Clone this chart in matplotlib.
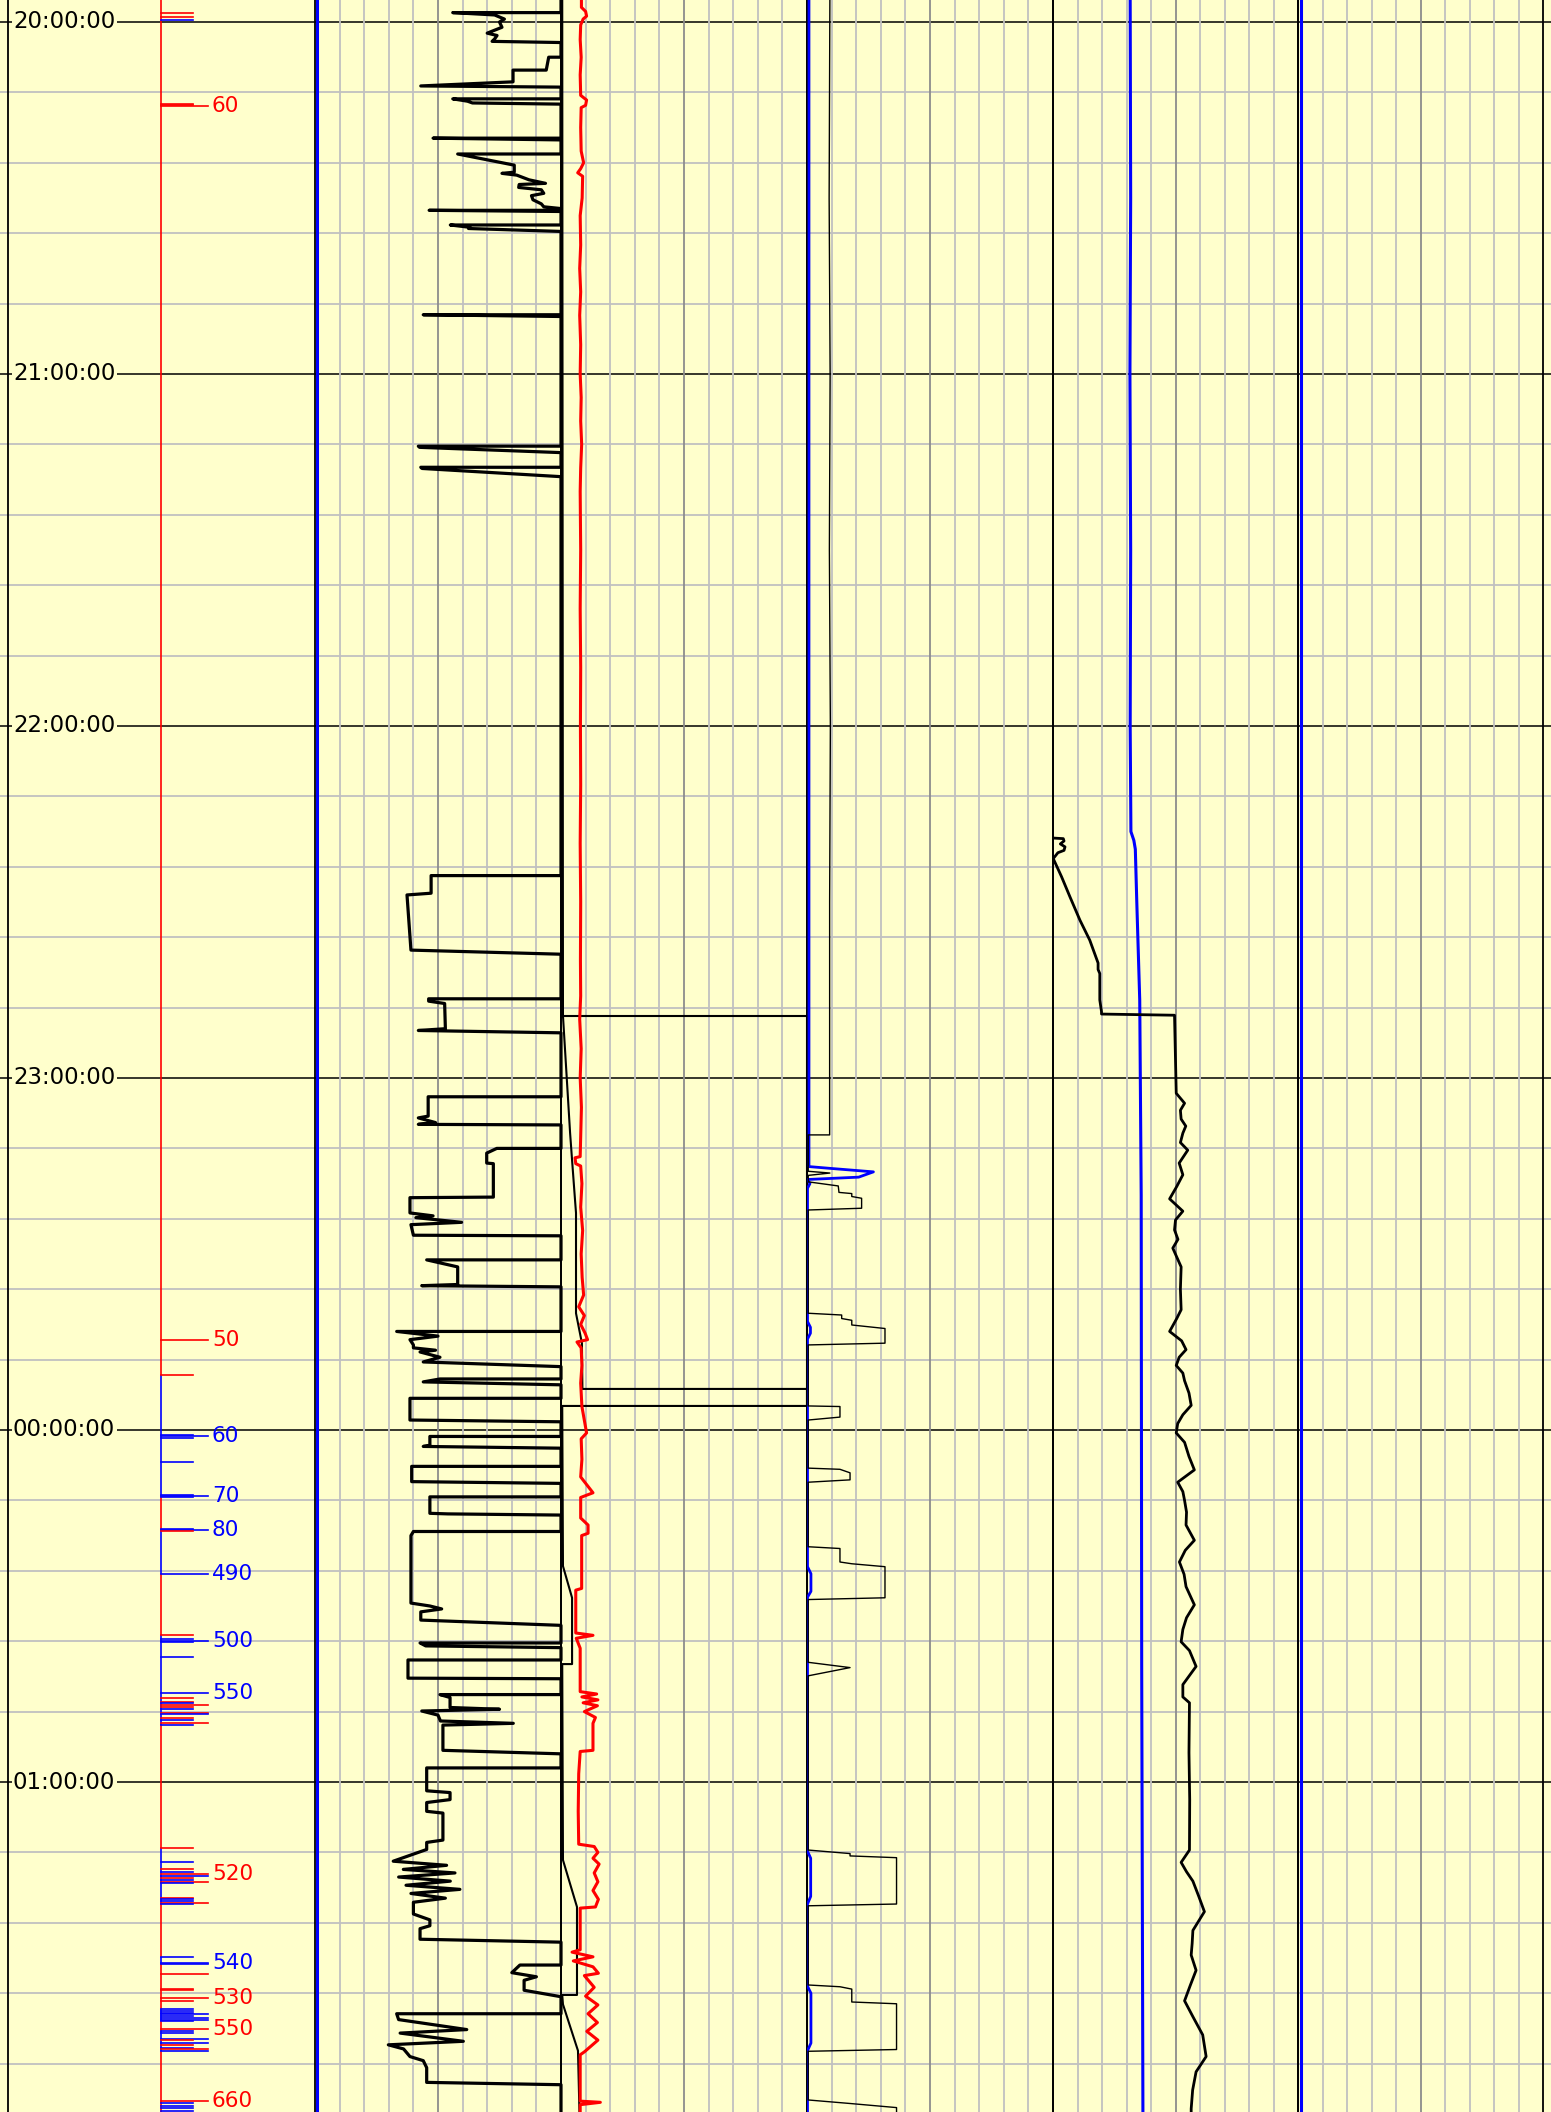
import matplotlib
matplotlib.use("Agg")
import matplotlib.pyplot as plt
import numpy as np

# ---------------- data (time = minutes after 20:00) ----------------
T_TOP, T_BOT = -3.75, 356.25
hour_labels = ["20:00:00", "21:00:00", "22:00:00", "23:00:00", "00:00:00", "01:00:00"]
hour_minutes = [0, 60, 120, 180, 240, 300]

# Track A: thick black curve (baseline 10 = right edge)
a_t = [-3.75, -1.6, -1.6, -1.2, -0.5, 0.0, 0.9, 1.9, 2.3, 2.9, 3.3, 3.5,
       6.0, 6.0, 8.2, 8.2, 10.2, 10.9, 11.1,
       13.1, 13.1, 13.5, 13.8, 14.0,
       19.8, 19.8, 20.1,
       22.5, 22.5, 23.5, 24.4, 25.6, 25.8, 26.1, 26.9, 27.5, 27.7, 28.2, 28.6, 29.2, 29.6, 30.3, 31.0, 31.5, 31.8,
       32.1, 32.1, 32.3,
       34.6, 34.6, 35.0, 35.2, 35.7,
       49.9, 49.9, 50.2,
       72.3, 72.3, 72.5, 73.4, 75.9, 75.9, 76.1, 77.5,
       145.5, 145.5, 148.5, 148.8, 158.2, 158.9,
       166.5, 166.5, 166.9, 167.3, 171.6, 171.9, 172.3,
       183.2, 183.2, 186.5, 186.8, 187.6, 187.9, 188.0,
       192.0, 192.0, 192.8, 194.5, 194.6, 200.3, 200.4, 203.0, 203.5, 203.8, 204.6, 205.0, 206.8, 206.9,
       211.0, 211.0, 212.2, 215.2, 215.4, 215.6,
       223.2, 223.2, 224.0, 224.6, 225.5, 226.0, 226.4, 226.7, 227.6, 228.4, 229.2,
       231.3, 231.3, 231.8, 232.3,
       234.6, 234.6, 238.3, 238.6,
       241.1, 241.1, 242.6, 242.8, 243.1,
       246.2, 246.2, 248.8, 249.1,
       251.4, 251.4, 254.2, 254.3, 254.5,
       257.3, 257.3, 258.0, 269.5, 270.0, 270.5, 271.0, 272.4, 273.3,
       276.3, 276.3, 276.8, 277.1,
       279.2, 279.2, 282.3, 282.4,
       285.1, 285.1, 285.6, 287.3, 287.6, 287.9, 288.6, 289.6, 290.0, 290.3, 291.3, 294.6, 295.2,
       297.6, 297.6, 301.5, 301.8, 303.0, 303.5, 305.0, 305.3, 309.9, 310.3, 311.5, 313.5,
       314.2, 314.9, 315.5, 316.2, 316.9, 317.6, 318.3, 319.0, 319.8, 320.5, 321.2,
       322.5, 323.5, 324.5, 325.0, 326.8, 327.3,
       331.2, 331.2, 332.5, 333.2, 333.8, 335.5, 336.6,
       339.5, 339.5, 340.5, 342.2, 342.8, 344.2, 344.8, 345.5, 346.8, 347.5, 348.7, 351.2, 351.6,
       356.25]
a_v = [10, 10, 5.6, 7.3, 7.7, 7.5, 7.6, 7.0, 7.4, 7.3, 7.2, 10,
       10, 9.5, 9.4, 8.05, 8.05, 4.3, 10,
       10, 5.6, 6.2, 6.4, 10,
       10, 4.8, 10,
       10, 5.8, 7.0, 8.1, 8.1, 7.6, 8.2, 8.7, 9.37, 8.3, 8.28, 9.2, 9.3, 8.8, 8.86, 9.2, 9.3, 10,
       10, 4.64, 10,
       10, 5.5, 6.3, 6.24, 10,
       10, 4.4, 10,
       10, 4.2, 4.25, 10, 10, 4.3, 4.35, 10,
       10, 4.72, 4.72, 3.74, 3.9, 10,
       10, 4.62, 4.62, 5.27, 5.3, 4.2, 10,
       10, 4.6, 4.6, 4.2, 4.9, 4.2, 10,
       10, 7.39, 6.98, 6.98, 7.25, 7.25, 3.86, 3.86, 4.8, 4.1, 5.96, 3.9, 4.0, 10,
       10, 4.54, 5.8, 5.8, 4.34, 10,
       10, 3.32, 5.0, 3.86, 4.0, 4.0, 4.9, 4.27, 5.08, 4.4, 10,
       10, 5.08, 4.4, 10,
       10, 3.86, 3.86, 10,
       10, 4.67, 4.67, 4.4, 10,
       10, 3.93, 3.93, 10,
       10, 4.67, 4.67, 5.4, 10,
       10, 4.0, 3.9, 3.9, 4.67, 5.15, 4.3, 4.3, 10,
       10, 4.27, 4.5, 10,
       10, 3.78, 3.78, 10,
       10, 5.08, 5.49, 5.49, 7.5, 4.34, 5.0, 5.1, 8.06, 5.2, 5.2, 5.2, 10,
       10, 4.54, 4.54, 5.49, 5.49, 4.54, 4.54, 5.2, 5.2, 4.54, 4.54, 3.18,
       5.35, 3.59, 5.69, 3.4, 5.5, 3.7, 5.89, 3.9, 5.3, 4.0, 4.0,
       4.0, 4.67, 4.67, 4.27, 4.27, 10,
       10, 8.33, 8.0, 9.0, 8.5, 8.5, 10,
       10, 3.32, 3.4, 6.17, 3.46, 6.03, 2.98, 3.6, 3.86, 4.4, 4.54, 4.54, 10,
       10]

# Track B: red curve
red_t = [-3.75, -2.5, -1.8, -1.0, -0.5, 0.5, 3, 6, 9, 12.5, 13.3, 14.2, 14.6, 18, 22, 24, 25.0, 25.7, 26.3,
         30, 33, 38, 42, 46, 50, 55, 60, 64, 68, 72, 76, 80, 90, 100, 110, 120, 130, 140, 150, 160, 166,
         170, 175, 180, 185, 190, 193.4, 193.6, 194.6, 195, 198, 202, 206, 210, 214, 217, 219, 220.5, 222,
         223.5, 224.6, 225.0, 226, 229, 232, 236, 240.5, 241.5, 245, 248, 250.7, 251.5, 255, 256.2, 257.6,
         258, 267, 267.3, 274.6, 275.0, 275.5, 277.2, 284.6, 285, 285.5, 286, 286.5, 287, 288, 289, 290,
         294.6, 294.8, 298.6, 305, 310.6, 311, 312, 313, 314, 315.5, 317, 318.5, 320, 321.3, 321.5, 328.6,
         329, 329.8, 330.5, 331.5, 332.6, 333, 335, 336.5, 338, 339.5, 341, 342.5, 344, 346, 346.5, 354.4,
         354.6, 355, 356.25]
red_v = [0.83, 0.83, 1.0, 1.04, 0.9, 0.8, 0.78, 0.82, 0.78, 0.8, 1.04, 1.0, 0.82, 0.8, 0.82, 0.92, 0.8, 0.68, 0.88,
         0.86, 0.78, 0.8, 0.76, 0.8, 0.76, 0.8, 0.78, 0.82, 0.8, 0.84, 0.8, 0.78, 0.8, 0.78, 0.8, 0.79, 0.8, 0.78, 0.8, 0.79, 0.8,
         0.76, 0.82, 0.78, 0.83, 0.8, 0.78, 0.57, 0.6, 0.8, 0.85, 0.8, 0.88, 0.82, 0.86, 0.92, 0.72, 0.95, 0.8,
         0.98, 1.08, 0.65, 0.82, 0.85, 0.8, 0.85, 1.04, 0.82, 0.85, 0.8, 1.3, 0.8, 0.8, 1.1, 1.1,
         0.84, 0.84, 0.6, 0.6, 1.3, 0.62, 0.78, 0.78, 1.45, 0.85, 1.5, 0.9, 1.48, 0.95, 1.4, 1.3,
         1.3, 0.78, 0.72, 0.7, 0.72, 1.35, 1.5, 1.3, 1.55, 1.35, 1.5, 1.3, 1.52, 1.4, 0.78, 0.78,
         0.45, 1.3, 0.5, 1.3, 1.52, 0.95, 1.35, 1.0, 1.5, 1.1, 1.48, 1.05, 1.5, 0.95, 0.78, 0.78,
         1.6, 0.78, 0.78]

# Track B: thin black sawtooth and wrapped excursion
saw_t = [-3.75, 169.4, 189.4, 194.0, 200.8, 203.0, 220.1, 225.2, 233.0, 233.0, 235.9, 235.9,
         263.2, 268.6, 279.9, 279.9, 313.3, 321.3, 336.3, 336.3, 337.9, 345.8, 356.25]
saw_v = [0.05, 0.08, 0.37, 0.45, 0.57, 0.61, 0.61, 0.85, 0.87, 10, 10, 0.05,
         0.08, 0.45, 0.45, 0.05, 0.08, 0.65, 0.65, 0.05, 0.08, 0.69, 0.75]
wrap_t = [169.4, 169.4, 235.9]
wrap_v = [0.05, 10, 10]

# Track C: thin black step curve and blue curve
c_t = [-3.75, 30, 60, 90, 120, 150, 189.7, 189.7, 195.9, 196.2, 196.6, 197.7, 198.4, 199.5, 199.7, 200.2, 200.5,
       202.2, 202.5, 220.1, 220.4, 221.0, 221.3, 222.1, 222.7, 225.2, 225.5, 235.9, 236.0, 237.8, 238.3,
       246.5, 246.7, 247.3, 248.5, 248.9, 259.9, 260.2, 262.5, 262.8, 263.3, 268.6, 268.9, 279.6, 280.5,
       281.9, 311.6, 312.2, 312.6, 312.9, 320.8, 321.1, 334.6, 334.9, 335.3, 337.5, 337.8, 345.6, 345.9,
       354.2, 354.8, 355.5, 356.25]
c_v = [0.93, 0.9, 0.94, 0.91, 0.95, 0.92, 0.92, 0.05, 0.05, 0.93, 0.05, 0.05, 1.27, 1.3, 1.82, 1.82, 2.22,
       2.22, 0.05, 0.05, 1.41, 1.41, 1.82, 1.82, 3.17, 3.17, 0.05, 0.05, 1.34, 1.34, 0.05,
       0.05, 1.34, 1.75, 1.75, 0.05, 0.05, 1.34, 1.34, 1.82, 3.17, 3.17, 0.05, 0.05, 1.75,
       0.05, 0.05, 1.75, 1.75, 3.64, 3.64, 0.05, 0.05, 1.34, 1.82, 1.82, 3.64, 3.64, 0.05,
       0.05, 1.75, 3.64, 3.64]
cb_t = [-3.75, 189.0, 195.1, 195.4, 196.0, 196.9, 197.3, 198.0, 198.8, 199.5, 221.5, 222.5, 223.5,
        224.5, 263.3, 264.5, 267.5, 268.5, 311.8, 313.0, 319.5, 320.8, 334.8, 336.0, 344.5, 345.8, 356.25]
cb_v = [0.08, 0.08, 0.08, 0.93, 2.7, 2.1, 0.02, 0.12, 0.02, 0.02, 0.02, 0.14, 0.14, 0.02, 0.02, 0.16, 0.16,
        0.02, 0.02, 0.15, 0.15, 0.02, 0.02, 0.16, 0.16, 0.02, 0.02]

# Track D: blue and black curves
db_t = [-3.75, 30, 60, 90, 120, 138.0, 139.5, 141.0, 150, 166.7, 200, 280, 356.25]
db_v = [3.15, 3.17, 3.14, 3.17, 3.15, 3.18, 3.3, 3.36, 3.42, 3.54, 3.6, 3.62, 3.67]
dk_t = [139.1, 139.2, 139.6, 140.1, 140.6, 141.2, 141.6, 142.6, 145.7, 149.1, 153.1, 156.5, 160.4, 161.5,
        162.2, 166.7, 168.7, 169.1, 169.3, 182.6, 184.3, 185.5, 187.0, 188.2, 189.4, 191.0, 192.3, 194.5,
        196.5, 198.5, 200.6, 202.7, 204.2, 205.9, 207.5, 209.0, 212.2, 216.0, 219.5, 221.0, 223.2, 224.8,
        226.3, 227.6, 229.0, 230.3, 231.6, 233.7, 235.8, 237.4, 238.9, 240.5, 242.1, 244.5, 246.8, 248.9,
        250.5, 252.0, 254.0, 256.2, 258.8, 260.5, 262.5, 264.6, 266.7, 269.8, 272.0, 274.0, 276.1, 277.6,
        280.3, 283.4, 285.5, 286.5, 295.0, 303.0, 311.6, 313.7, 315.3, 316.9, 319.5, 322.1, 325.3, 327.5,
        329.5, 332.1, 334.7, 337.3, 340.0, 343.1, 346.8, 349.4, 352.5, 355.7, 356.25]
dk_v = [0.01, 0.42, 0.45, 0.3, 0.49, 0.45, 0.2, 0.01, 0.35, 0.69, 1.1, 1.5, 1.84, 1.84,
        1.91, 1.91, 1.98, 1.98, 4.96, 5.03, 5.37, 5.2, 5.23, 5.42, 5.3, 5.2, 5.5, 5.15,
        5.3, 5.05, 4.76, 5.3, 5.0, 4.96, 5.1, 4.89, 5.23, 5.2, 5.23, 5.05, 4.76, 5.25,
        5.43, 5.15, 5.03, 5.3, 5.37, 5.55, 5.64, 5.3, 5.09, 5.03, 5.37, 5.55, 5.77, 5.09,
        5.3, 5.37, 5.45, 5.43, 5.77, 5.4, 5.16, 5.35, 5.43, 5.77, 5.45, 5.3, 5.23, 5.57,
        5.84, 5.3, 5.3, 5.57, 5.55, 5.58, 5.57, 5.23, 5.45, 5.71, 5.95, 6.18, 5.71, 5.68,
        5.64, 5.84, 5.6, 5.37, 5.71, 6.11, 6.25, 5.84, 5.7, 5.64, 5.64]

# Edge-pinned blue curves (tracks A and E)
ablue_t = [-3.75, 356.25]
ablue_v = [0.1, 0.1]
eblue_t = [-3.75, 356.25]
eblue_v = [0.12, 0.12]

# Event track
ev_t = [-1.48, -0.80, -0.34, 13.9, 14.1, 14.3,
        224.65, 230.6, 240.9, 241.1, 241.3, 245.4, 251.0, 251.2, 251.4, 256.8, 257.0, 257.2, 264.5,
        274.9, 275.7, 275.9, 276.1, 278.7, 284.9, 285.7,
        286.3, 286.6, 286.9, 287.3, 287.6, 288.2, 288.4, 289.1, 289.5, 289.9, 290.2,
        311.3, 313.6, 314.9, 315.3, 315.7, 316.0, 316.4, 316.7, 317.0, 317.3,
        319.7, 320.0, 320.3, 320.6, 320.8, 329.9, 330.8, 330.95, 332.7, 335.3, 335.5, 336.8, 337.3,
        338.7, 339.0, 339.3, 339.6, 339.9, 340.2, 340.5, 340.7, 342.1, 342.4, 342.8,
        343.8, 344.0, 344.5, 344.9, 345.3, 345.5, 345.9, 354.4, 354.8, 355.2, 355.6, 356.0]
ev_c = ['r', 'r', 'b', 'r', 'r', 'r',
        'r', 'r', 'b', 'b', 'b', 'b', 'b', 'b', 'b', 'b', 'b', 'r', 'b',
        'r', 'b', 'b', 'b', 'b', 'b', 'r',
        'r', 'b', 'r', 'r', 'b', 'r', 'b', 'r', 'b', 'r', 'b',
        'r', 'b', 'r', 'b', 'r', 'b', 'r', 'b', 'r', 'b',
        'r', 'b', 'b', 'r', 'b', 'b', 'b', 'b', 'r', 'r', 'r', 'r', 'r',
        'b', 'b', 'b', 'b', 'b', 'b', 'b', 'b', 'r', 'b', 'b',
        'b', 'r', 'b', 'r', 'b', 'r', 'b', 'r', 'b', 'b', 'b', 'b']
ev_long = [0, 0, 0, 0, 0, 1,
           1, 0, 0, 1, 0, 0, 0, 1, 0, 0, 1, 0, 1,
           0, 0, 1, 0, 0, 1, 0,
           0, 0, 1, 0, 0, 1, 1, 0, 0, 1, 0,
           0, 0, 0, 0, 1, 1, 0, 0, 1, 0,
           0, 0, 0, 1, 0, 0, 1, 1, 1, 0, 0, 1, 0,
           0, 0, 0, 1, 0, 1, 1, 0, 1, 0, 0,
           1, 0, 1, 0, 0, 1, 1, 1, 0, 0, 0, 0]
ev_lab = ['', '', '', '', '', '60',
          '50', '', '', '60', '', '', '', '70', '', '', '80', '', '490',
          '', '', '500', '', '', '550', '',
          '', '', '', '', '', '', '', '', '', '', '',
          '', '', '', '', '520', '', '', '', '', '',
          '', '', '', '', '', '', '540', '', '', '', '', '530', '',
          '', '', '', '', '', '', '', '', '550', '', '',
          '', '', '', '', '', '', '', '660', '', '', '', '']
# colour of the vertical event line, by segment start
seg_t = [-3.75, 230.6, 251.2, 257.0, 264.5, 274.9, 290.2, 311.3, 320.8, 329.9, 330.95, 338.7, 340.7, 342.4, 345.9]
seg_c = ['r', 'b', 'r', 'b', 'r', 'b', 'r', 'b', 'r', 'b', 'r', 'b', 'r', 'b', 'r']

# ---------------- figure ----------------
W, H = 1551, 2112
BG = '#ffffcc'
GRID = '#c0c0c0'
GRID5 = '#8c8c8c'
COL = {'r': '#ff0000', 'b': '#0000ff'}
plt.rcParams['font.family'] = ['DejaVu Sans']

fig = plt.figure(figsize=(W / 100, H / 100), dpi=100)
fig.patch.set_facecolor(BG)

bg = fig.add_axes([0, 0, 1, 1])
bg.set_xlim(0, W)
bg.set_ylim(T_BOT, T_TOP)
bg.set_facecolor(BG)
bg.axis('off')
for m in range(0, 360, 12):
    if m % 60 == 0:
        bg.axhline(m, color='black', lw=1.1, zorder=1)
    else:
        bg.axhline(m, color=GRID, lw=1.3, zorder=0.5)
for lab, m in zip(hour_labels, hour_minutes):
    bg.text(13, m, lab, fontsize=16.5, va='center', ha='left', color='black', zorder=5,
            bbox=dict(facecolor=BG, edgecolor='none', pad=1.0))

# event track
ev_ax = fig.add_axes([8 / W, 0, (315 - 8) / W, 1])
ev_ax.set_xlim(0, 1)
ev_ax.set_ylim(T_BOT, T_TOP)
ev_ax.patch.set_alpha(0)
ev_ax.set_xticks([]); ev_ax.set_yticks([])
for s in ['top', 'bottom', 'right']:
    ev_ax.spines[s].set_visible(False)
ev_ax.spines['left'].set_linewidth(1.3)
XL, XS, XLL, XT = 0.498, 0.603, 0.651, 0.664
seg_end = seg_t[1:] + [T_BOT]
for s0, s1, c in zip(seg_t, seg_end, seg_c):
    ev_ax.plot([XL, XL], [s0, s1], color=COL[c], lw=1.2, zorder=3, solid_capstyle='butt')
for t, c, lg, lab in zip(ev_t, ev_c, ev_long, ev_lab):
    ev_ax.plot([XL, XLL if lg else XS], [t, t], color=COL[c], lw=1.2, zorder=3)
    if lab:
        ev_ax.text(XT, t, lab, color=COL[c], fontsize=15.5, va='center', ha='left', zorder=4)

# data tracks
edges = [315, 561, 807, 1053, 1298, 1543]
tracks = []
for l, r in zip(edges[:-1], edges[1:]):
    ax = fig.add_axes([l / W, 0, (r - l) / W, 1])
    ax.set_xlim(0, 10)
    ax.set_ylim(T_BOT, T_TOP)
    ax.patch.set_alpha(0)
    ax.set_xticks([]); ax.set_yticks([])
    for s in ['top', 'bottom']:
        ax.spines[s].set_visible(False)
    for s in ['left', 'right']:
        ax.spines[s].set_linewidth(1.3)
        ax.spines[s].set_color('black')
    for k in range(1, 10):
        ax.axvline(k, color=GRID5 if k == 5 else GRID, lw=1.3, zorder=0.5)
    tracks.append(ax)

A, B, C, D, E = tracks
A.plot(ablue_v, ablue_t, color='#0000ff', lw=2.2, zorder=3)
A.plot(a_v, a_t, color='black', lw=2.3, zorder=4, clip_on=False)
B.plot(wrap_v, wrap_t, color='black', lw=1.5, zorder=3, clip_on=False)
B.plot(saw_v, saw_t, color='black', lw=1.5, zorder=3, clip_on=False)
B.plot(red_v, red_t, color='#ff0000', lw=2.2, zorder=4)
C.plot(cb_v, cb_t, color='#0000ff', lw=2.0, zorder=3)
C.plot(c_v, c_t, color='black', lw=1.0, zorder=4, clip_on=False)
D.plot(db_v, db_t, color='#0000ff', lw=2.2, zorder=3)
D.plot(dk_v, dk_t, color='black', lw=2.0, zorder=4)
E.plot(eblue_v, eblue_t, color='#0000ff', lw=2.2, zorder=3)

fig.savefig('out.png', dpi=100, facecolor=BG)
